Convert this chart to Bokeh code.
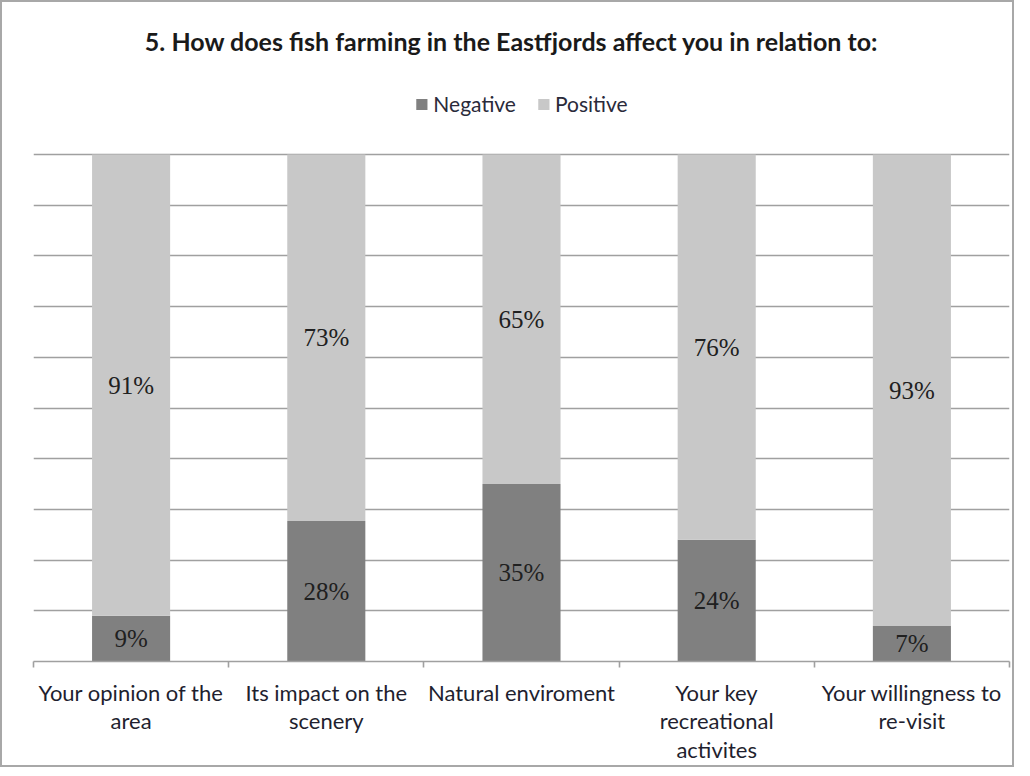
import numpy as np
from bokeh.plotting import figure
from bokeh.models import ColumnDataSource, FixedTicker, Legend, LegendItem, LabelSet, Label
from bokeh.embed import file_html
from bokeh.resources import INLINE

title_text = "5. How does fish farming in the Eastfjords affect you in relation to:"
categories = ["Your opinion of the\narea", "Its impact on the\nscenery", "Natural enviroment",
              "Your key\nrecreational\nactivites", "Your willingness to\nre-visit"]
negative = [9, 28, 35, 24, 7]
positive = [91, 73, 65, 76, 93]
series = ["Negative", "Positive"]
colors = ["#808080", "#c8c8c8"]
y_ticks = list(range(0, 101, 10))

# layout constants (pixels)
FRAME_W, FRAME_H = 976, 659
PLOT_PX = 507  # pixels for 0..100 %
y_top = 100.0 * FRAME_H / PLOT_PX

x = np.arange(len(categories)) + 0.5
neg = np.array(negative, dtype=float)
pos = np.array(positive, dtype=float)
tot = neg + pos
neg_s = neg / tot * 100  # 100% stacked shares
pos_s = pos / tot * 100
src = ColumnDataSource(dict(
    x=x, Negative=neg_s, Positive=pos_s,
    neg_y=neg_s / 2, pos_y=neg_s + pos_s / 2,
    neg_t=[f"{v}%" for v in negative], pos_t=[f"{v}%" for v in positive],
))

p = figure(frame_width=FRAME_W, frame_height=FRAME_H,
           x_range=(0, len(categories)), y_range=(0, y_top),
           output_backend="svg", toolbar_location=None, title_location=None,
           min_border_left=31, min_border_right=3, min_border_top=0, min_border_bottom=97)
p.styles = {"border": "2px solid #a8a8a8"}
p.outline_line_color = None

rs = p.vbar_stack(series, x="x", width=0.4, color=colors, source=src, line_color=None)

p.yaxis.visible = False
p.yaxis.ticker = FixedTicker(ticks=y_ticks)
p.ygrid.grid_line_color = "#a0a0a0"
p.ygrid.grid_line_width = 1.6
p.xgrid.visible = False

xa = p.xaxis[0]
xa.ticker = FixedTicker(ticks=list(x), minor_ticks=list(range(len(categories) + 1)))
xa.major_label_overrides = {float(v): c for v, c in zip(x, categories)}
xa.major_tick_out = 0
xa.major_tick_in = 0
xa.minor_tick_out = 6
xa.minor_tick_in = 0
xa.minor_tick_line_color = "#a0a0a0"
xa.minor_tick_line_width = 1.6
xa.axis_line_color = "#a0a0a0"
xa.axis_line_width = 1.6
xa.major_label_text_font = "Lato"
xa.major_label_text_font_size = "22px"
xa.major_label_text_color = "#1f1f2f"
xa.major_label_text_line_height = 1.06
xa.major_label_standoff = 11

for ycol, tcol in (("neg_y", "neg_t"), ("pos_y", "pos_t")):
    p.add_layout(LabelSet(x="x", y=ycol, text=tcol, source=src, text_align="center",
                          text_baseline="middle", text_font="Liberation Serif",
                          text_font_size="25px", text_color="#202020"))

p.add_layout(Label(x=2.45, y=122.3, text=title_text, text_align="center",
                   text_baseline="middle", text_font="Lato", text_font_style="bold",
                   text_font_size="25px", text_color="#1a1a1a"))

legend = Legend(items=[LegendItem(label=s, renderers=[r]) for s, r in zip(series, rs)],
                orientation="horizontal", location="top_center", margin=89, padding=0,
                border_line_alpha=0, background_fill_alpha=0,
                glyph_width=14, glyph_height=14, label_standoff=5, spacing=20,
                label_text_font="Lato", label_text_font_size="21px", label_text_color="#2a2a3a")
p.add_layout(legend, "center")

open("out.html", "w").write(file_html(p, INLINE))
